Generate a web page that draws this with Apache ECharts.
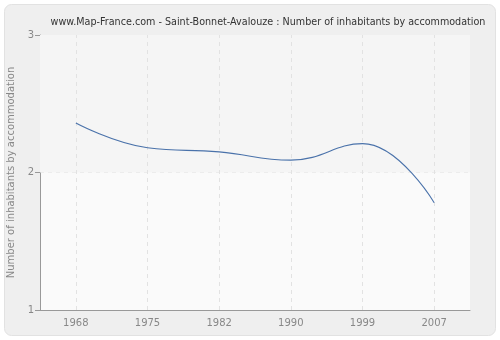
<!DOCTYPE html>
<html>
<head>
<meta charset="utf-8">
<script src="https://cdn.jsdelivr.net/npm/echarts@6/dist/echarts.min.js"></script>
<style>
html,body{margin:0;padding:0;background:#fff;}
#c{width:500px;height:340px;}
</style>
</head>
<body>
<div id="c"></div>
<script>
var titleText = 'www.Map-France.com - Saint-Bonnet-Avalouze : Number of inhabitants by accommodation';
var yAxisName = 'Number of inhabitants by accommodation';
var years = ['1968', '1975', '1982', '1990', '1999', '2007'];
var inhabitantsPerAccommodation = [2.36, 2.18, 2.15, 2.09, 2.21, 1.78];
var yTicks = [1, 2, 3];

var chart = echarts.init(document.getElementById('c'), null, {renderer: 'canvas'});
chart.setOption({
  animation: false,
  backgroundColor: '#ffffff',
  graphic: [{
    type: 'rect', z: -10, silent: true,
    shape: {x: 4.5, y: 4.5, width: 491, height: 331, r: 7},
    style: {fill: '#efefef', stroke: '#e2e2e2', lineWidth: 1}
  }],
  title: {
    text: titleText,
    left: 263, top: 12, textAlign: 'center',
    textStyle: {fontFamily: 'DejaVu Sans', fontSize: 9.6, fontWeight: 'normal', color: '#333'}
  },
  grid: {left: 40, right: 30, top: 35, bottom: 30, containLabel: false, outerBoundsMode: 'none',
    show: true, backgroundColor: '#fafafa', borderWidth: 0},
  xAxis: {
    type: 'category', data: years, boundaryGap: true,
    axisLine: {lineStyle: {color: '#999'}},
    axisTick: {alignWithLabel: true, length: 5, lineStyle: {color: '#999'}},
    axisLabel: {color: '#888', fontFamily: 'DejaVu Sans', fontSize: 10, margin: 8},
    splitLine: {show: false}
  },
  yAxis: {
    type: 'value', min: yTicks[0], max: yTicks[yTicks.length - 1], interval: 1,
    name: yAxisName, nameLocation: 'middle', nameGap: 18,
    nameTextStyle: {color: '#888', fontFamily: 'DejaVu Sans', fontSize: 10},
    axisLine: {show: true, lineStyle: {color: '#999'}},
    axisTick: {show: true, length: 5, lineStyle: {color: '#999'}},
    axisLabel: {color: '#888', fontFamily: 'DejaVu Sans', fontSize: 10, margin: 6},
    splitLine: {show: true, lineStyle: {color: '#e2e2e2', type: [4, 4]}}
  },
  series: [{
    type: 'line', data: inhabitantsPerAccommodation, smooth: 0.45,
    symbol: 'none', z: 5,
    lineStyle: {color: '#4a72aa', width: 1.1},
    markArea: {
      silent: true, z: 1,
      itemStyle: {color: '#f5f5f5'},
      data: [[{yAxis: 2}, {yAxis: 3}]]
    },
    markLine: {
      silent: true, symbol: 'none', z: 2,
      label: {show: false},
      lineStyle: {color: '#e2e2e2', type: [4, 4], width: 1},
      data: years.map(function (y) { return {xAxis: y}; })
    }
  }]
});
</script>
</body>
</html>
